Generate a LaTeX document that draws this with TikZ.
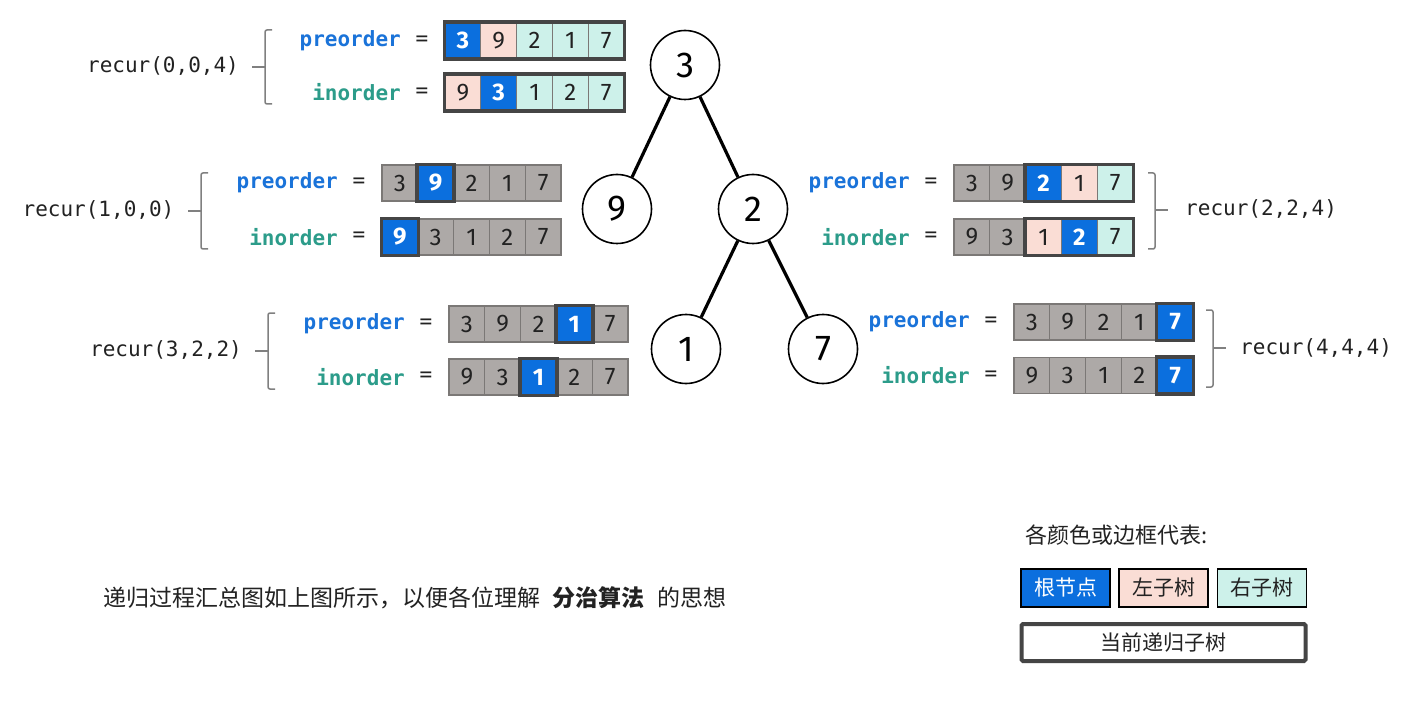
\documentclass[tikz,border=0pt]{standalone}
\usepackage{fontspec}
\setmainfont{Fira Sans}
\setmonofont{DejaVu Sans Mono}
\newfontfamily\cellfont{Fira Sans}
\newfontfamily\cjk{Noto Sans CJK SC}
\definecolor{rootblue}{HTML}{0B6FDE}
\definecolor{leftpink}{HTML}{FADDD5}
\definecolor{rightmint}{HTML}{CDF1EA}
\definecolor{cellgray}{HTML}{ADA9A7}
\definecolor{cellline}{HTML}{7B7876}
\definecolor{framec}{HTML}{454545}
\definecolor{preblue}{HTML}{1A73D9}
\definecolor{inteal}{HTML}{2C9C8A}
\definecolor{bracec}{HTML}{808080}
\definecolor{txt}{HTML}{222222}
\tikzset{
  cell/.style={draw=cellline, line width=1.2pt, minimum width=35.8pt, minimum height=36pt, inner sep=0pt,
    font=\cellfont\fontsize{24}{26}\selectfont, text=txt},
  croot/.style={fill=rootblue, text=white, font=\cellfont\bfseries\fontsize{24}{26}\selectfont},
  cleft/.style={fill=leftpink},
  cright/.style={fill=rightmint},
  cgray/.style={fill=cellgray},
  frame/.style={draw=framec, line width=3.5pt},
  prelab/.style={font=\ttfamily\bfseries\fontsize{21}{24}\selectfont, text=preblue, inner sep=0pt, anchor=east},
  inlab/.style={font=\ttfamily\bfseries\fontsize{21}{24}\selectfont, text=inteal, inner sep=0pt, anchor=east},
  eqlab/.style={font=\ttfamily\fontsize{21}{24}\selectfont, text=txt, inner sep=0pt},
  rec/.style={font=\ttfamily\fontsize{21}{24}\selectfont, text=txt, inner sep=0pt},
  brc/.style={draw=bracec, line width=1.5pt, rounded corners=2pt},
  tn/.style={circle, draw=black, line width=1.6pt, minimum size=69pt, inner sep=0pt, fill=white,
    font=\fontsize{36}{40}\selectfont},
  edge/.style={draw=black, line width=3.2pt},
  lgbox/.style={draw=black, line width=1.3pt, minimum width=89pt, minimum height=38pt, inner sep=0pt,
    font=\cjk\fontsize{21}{24}\selectfont, text=txt},
}
% name, x left, y center, list style/value
\newcommand\mkarr[4]{%
  \foreach[count=\ii] \cs/\cv in {#4}{%
    \node[cell,\cs] (#1\ii) at ({#2+(\ii-0.5)*35.8},#3) {\cv};
  }}
\newcommand\frm[3]{\draw[frame] (#1#2.north west) rectangle (#1#3.south east);}
% id, x array, y pre, y in
\newcommand\labs[4]{%
  \node[prelab] (#1pl) at (#2-44,#3) {preorder};
  \node[eqlab] (#1pe) at (#2-23,#3) {=};
  \node[inlab] (#1il) at (#2-44,#4) {inorder};
  \node[eqlab] (#1ie) at (#2-23,#4) {=};}
% x, ytop, ybot, ytick  (opening to the right)
\newcommand\lbrc[4]{%
  \draw[brc] (#1+7,#2) -- (#1,#2) -- (#1,#3) -- (#1+7,#3);
  \draw[brc] (#1,#4) -- (#1-13,#4);}
\newcommand\rbrc[4]{%
  \draw[brc] (#1-7,#2) -- (#1,#2) -- (#1,#3) -- (#1-7,#3);
  \draw[brc] (#1,#4) -- (#1+13,#4);}
\begin{document}
\begin{tikzpicture}[x=1pt,y=-1pt]
\fill[white] (0,0) rectangle (1404,708);
\useasboundingbox (0,0) rectangle (1404,708);

% ---------- tree ----------
\node[tn] (n3) at (685,65) {3};
\node[tn] (n9) at (617,209) {9};
\node[tn] (n2) at (753,209) {2};
\node[tn] (n1) at (686,349) {1};
\node[tn] (n7) at (823,349) {7};
\draw[edge] (n3) -- (n9);
\draw[edge] (n3) -- (n2);
\draw[edge] (n2) -- (n1);
\draw[edge] (n2) -- (n7);

% ---------- recur(0,0,4) ----------
\labs{a}{445}{40.5}{92.5}
\mkarr{ap}{445}{40.5}{croot/3,cleft/9,cright/2,cright/1,cright/7}
\mkarr{ai}{445}{92.5}{cleft/9,croot/3,cright/1,cright/2,cright/7}
\frm{ap}{1}{5}\frm{ai}{1}{5}
\lbrc{265}{30}{104}{67}
\node[rec] (ra) at (163,66) {recur(0,0,4)};

% ---------- recur(1,0,0) ----------
\labs{b}{382}{183}{237}
\mkarr{bp}{382}{183}{cgray/3,croot/9,cgray/2,cgray/1,cgray/7}
\mkarr{bi}{382}{237}{croot/9,cgray/3,cgray/1,cgray/2,cgray/7}
\frm{bp}{2}{2}\frm{bi}{1}{1}
\lbrc{201}{173}{249}{211}
\node[rec] (rb) at (98.5,210) {recur(1,0,0)};

% ---------- recur(2,2,4) ----------
\labs{c}{954}{183}{237}
\mkarr{cp}{954}{183}{cgray/3,cgray/9,croot/2,cleft/1,cright/7}
\mkarr{ci}{954}{237}{cgray/9,cgray/3,cleft/1,croot/2,cright/7}
\frm{cp}{3}{5}\frm{ci}{3}{5}
\rbrc{1155}{173}{249}{210}
\node[rec, anchor=west] (rc) at (1185,209) {recur(2,2,4)};

% ---------- recur(3,2,2) ----------
\labs{d}{449}{324}{377}
\mkarr{dp}{449}{324}{cgray/3,cgray/9,cgray/2,croot/1,cgray/7}
\mkarr{di}{449}{377}{cgray/9,cgray/3,croot/1,cgray/2,cgray/7}
\frm{dp}{4}{4}\frm{di}{3}{3}
\lbrc{268}{313}{389}{351}
\node[rec] (rd) at (166,350) {recur(3,2,2)};

% ---------- recur(4,4,4) ----------
\labs{e}{1014}{322}{375.5}
\mkarr{ep}{1014}{322}{cgray/3,cgray/9,cgray/2,cgray/1,croot/7}
\mkarr{ei}{1014}{375.5}{cgray/9,cgray/3,cgray/1,cgray/2,croot/7}
\frm{ep}{5}{5}\frm{ei}{5}{5}
\rbrc{1213}{310}{387}{348}
\node[rec, anchor=west] (re) at (1240,348) {recur(4,4,4)};

% ---------- note ----------
\node[anchor=west, inner sep=0pt, text=txt, font=\cjk\fontsize{23}{26}\selectfont] (note) at (103,598)
  {递归过程汇总图如上图所示，以便各位理解\hspace{0.55em}\textbf{分治算法}\hspace{0.55em}的思想};

% ---------- legend ----------
\node[anchor=west, inner sep=0pt, text=txt, font=\cjk\fontsize{22}{24}\selectfont] (lgt) at (1025,535) {各颜色或边框代表:};
\node[lgbox, fill=rootblue, text=white] (lg1) at (1065.5,588) {根节点};
\node[lgbox, fill=leftpink] (lg2) at (1163.5,588) {左子树};
\node[lgbox, fill=rightmint] (lg3) at (1262,588) {右子树};
\node[lgbox, draw=framec, line width=4pt, minimum width=284pt, minimum height=37pt, rounded corners=1.5pt, fill=white] (lg4) at (1163.5,642.5) {当前递归子树};
\end{tikzpicture}
\end{document}
